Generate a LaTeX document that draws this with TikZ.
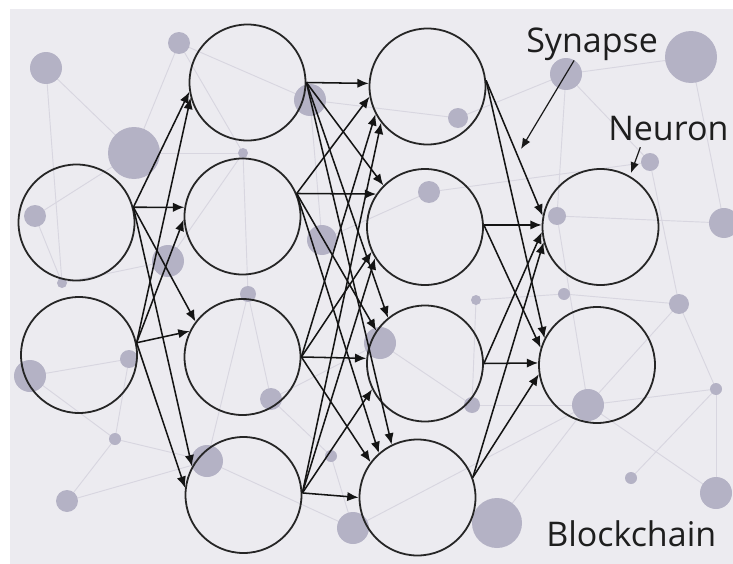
\documentclass[tikz,border=0pt]{standalone}
\usepackage{fontspec}
\setmainfont{Open Sans}
\usetikzlibrary{arrows.meta}
\definecolor{bgc}{RGB}{236,235,240}
\definecolor{dotc}{RGB}{180,178,197}
\definecolor{linkc}{RGB}{216,214,224}
\definecolor{txtc}{RGB}{30,30,30}
\begin{document}
\begin{tikzpicture}[x=0.75pt,y=-0.75pt,
 neuron/.style={circle,draw=black!85,line width=1.35pt,minimum size=87pt,inner sep=0pt},
 syn/.style={draw=black!92,line width=1.15pt,-{Latex[length=8.5pt,width=7pt]}},
 lbl/.style={font=\fontsize{25.5pt}{30pt}\selectfont,text=txtc,inner sep=0pt,anchor=base west},
 pointer/.style={draw=black!90,line width=0.9pt,-{Latex[length=8pt,width=6.5pt]}},
 link/.style={draw=linkc,line width=0.7pt},
 dot/.style={fill=dotc}]
\useasboundingbox (0,0) rectangle (733,564);
\fill[bgc] (10,9) rectangle (733,564);
% background network
\foreach \n/\x/\y in {1/46/68,2/179/43,3/134/153,4/35/216,5/243/153,6/168/261,7/62/283,8/310/100,9/322/240,10/248/294,11/30/376,12/129/359,13/115/439,14/67/501,15/207/461,16/271/399,17/353/528,18/331/456,19/566/74,20/691/57,21/458/118,22/429/192,23/557/216,24/650/162,25/724/223,26/476/300,27/564/294,28/679/304,29/380/343,30/472/405,31/588/405,32/716/389,33/631/478,34/716/493,35/497/523}
  {\coordinate (d\n) at (\x,\y);}
\foreach \a/\b in {1/3,1/7,2/3,2/8,2/5,3/5,4/3,4/7,5/10,5/6,11/12,11/13,13/14,14/15,13/12,13/15,15/17,10/16,10/15,8/9,8/21,19/20,19/21,19/23,19/24,20/25,24/28,23/25,22/24,23/31,27/28,28/32,32/33,32/34,31/34,31/32,31/35,28/31,29/30,30/26,30/31,17/31,16/29,9/22,6/7,26/27,18/16,18/17}
  {\draw[link] (d\a) -- (d\b);}
\foreach \n/\r in {1/16,2/11,3/26,4/11,5/5,6/16,7/5,8/16,9/15,10/8,11/16,12/9,13/6,14/11,15/16,16/11,17/16,18/6,19/16,20/26,21/10,22/11,23/9,24/9,25/15,26/5,27/6,28/10,29/16,30/8,31/16,32/6,33/6,34/16,35/25}
  {\fill[dot] (d\n) circle[radius=\r*0.75pt];}
% neurons
\node[neuron] (a1) at (76.5,222.5) {};
\node[neuron] (a2) at (79,355) {};
\node[neuron] (b1) at (247.5,82.5) {};
\node[neuron] (b2) at (242.5,216.5) {};
\node[neuron] (b3) at (242.5,357) {};
\node[neuron] (b4) at (243.5,495) {};
\node[neuron] (c1) at (427.5,86.5) {};
\node[neuron] (c2) at (425,227) {};
\node[neuron] (c3) at (425,363.5) {};
\node[neuron] (c4) at (417.5,497.5) {};
\node[neuron] (e1) at (600.5,227) {};
\node[neuron] (e2) at (597,365) {};
% synapses layer 1 -> 2
\draw[syn] (a1.15) -- (b1.189);
\draw[syn] (a2.12) -- (b1.195);
\draw[syn] (a1.15) -- (b2.171);
\draw[syn] (a2.12) -- (b2.183);
\draw[syn] (a1.15) -- (b3.143);
\draw[syn] (a2.12) -- (b3.154);
\draw[syn] (a1.15) -- (b4.151);
\draw[syn] (a2.12) -- (b4.173);
% layer 2 -> 3
\draw[syn] (b1.0) -- (c1.177);
\draw[syn] (b2.23) -- (c1.190);
\draw[syn] (b3.0) -- (c1.208);
\draw[syn] (b4.2) -- (c1.218);
\draw[syn] (b1.0) -- (c2.135);
\draw[syn] (b2.23) -- (c2.146);
\draw[syn] (b3.0) -- (c2.205);
\draw[syn] (b4.2) -- (c2.212);
\draw[syn] (b1.0) -- (c3.129);
\draw[syn] (b2.23) -- (c3.146);
\draw[syn] (b3.0) -- (c3.175);
\draw[syn] (b4.2) -- (c3.206);
\draw[syn] (b1.0) -- (c4.116);
\draw[syn] (b2.23) -- (c4.131);
\draw[syn] (b3.0) -- (c4.143);
\draw[syn] (b4.2) -- (c4.180);
% layer 3 -> 4
\draw[syn] (c1.6) -- (e1.169);
\draw[syn] (c2.2) -- (e1.178);
\draw[syn] (c3.0) -- (e1.185);
\draw[syn] (c4.20) -- (e1.195);
\draw[syn] (c1.6) -- (e2.153);
\draw[syn] (c2.2) -- (e2.163);
\draw[syn] (c3.0) -- (e2.178);
\draw[syn] (c4.20) -- (e2.189);
% labels
\node[lbl] (syn) at (526,52) {Synapse};
\node[lbl] (neu) at (608,140) {Neuron};
\node[lbl] (blk) at (546,546) {Blockchain};
\coordinate (synT) at (521,149);
\coordinate (neuT) at (631,173);
\draw[pointer] ([xshift=-13.5pt]syn.south) -- (synT);
\draw[pointer] ([xshift=-21pt,yshift=-5pt]neu.south) -- (neuT);
\end{tikzpicture}
\end{document}
